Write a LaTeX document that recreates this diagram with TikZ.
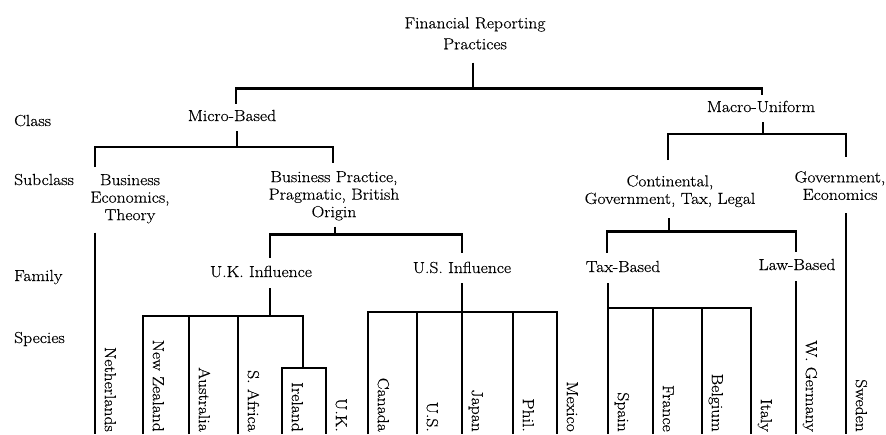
\documentclass[tikz,border=0pt]{standalone}
\usepackage{fontspec}
\setmainfont{Latin Modern Roman}[FakeStretch=1.1, FakeBold=0.4]

\tikzset{
  link/.style={line width=2.9pt},
  tag/.style={inner sep=0pt, align=center},
  level/.style={inner sep=0pt, anchor=base west},
  leaf/.style={inner sep=0pt, rotate=-90, anchor=mid east},
}

\begin{document}
\begin{tikzpicture}[x=1pt, y=1pt, font=\fontsize{16}{17.5}\selectfont]
\useasboundingbox (0,0) rectangle (886,-434);
% level names
\node[level] (lvclass) at (14,-126) {Class};
\node[level] (lvsub) at (14,-185) {Subclass};
\node[level] (lvfam) at (14,-281) {Family};
\node[level] (lvspec) at (14,-343) {Species};
% groups
\node[tag, anchor=north, font=\fontsize{16}{21}\selectfont] (root) at (475,-17) {Financial Reporting\\Practices};
\node[tag, anchor=base] (micro) at (232,-121) {Micro-Based};
\node[tag, anchor=base] (macro) at (761,-112) {Macro-Uniform};
\node[tag, anchor=north] (bizecon) at (130,-174) {Business\\Economics,\\Theory};
\node[tag, anchor=north] (bizprac) at (334,-171) {Business Practice,\\Pragmatic, British\\Origin};
\node[tag, anchor=north] (contin) at (670,-175) {Continental,\\Government, Tax, Legal};
\node[tag, anchor=north] (goveco) at (840,-171) {Government,\\Economics};
\node[tag, anchor=base] (ukinf) at (261,-277) {U.K. Influence};
\node[tag, anchor=base] (usinf) at (462,-273) {U.S. Influence};
\node[tag, anchor=base] (taxb) at (623,-272) {Tax-Based};
\node[tag, anchor=base] (lawb) at (797,-270) {Law-Based};
% feet of the country lines
\coordinate (nlfoot) at (95,-434);
\coordinate (nzfoot) at (143,-434);
\coordinate (ausfoot) at (189,-434);
\coordinate (safoot) at (238,-434);
\coordinate (irefoot) at (282,-434);
\coordinate (ukfoot) at (326,-434);
\coordinate (canfoot) at (368,-434);
\coordinate (usfoot) at (417,-434);
\coordinate (japfoot) at (462,-434);
\coordinate (phifoot) at (513,-434);
\coordinate (mexfoot) at (557,-434);
\coordinate (spafoot) at (608,-434);
\coordinate (frafoot) at (653,-434);
\coordinate (belfoot) at (702,-434);
\coordinate (itafoot) at (751,-434);
\coordinate (wgefoot) at (796,-434);
\coordinate (swefoot) at (846,-434);
% countries
\node[leaf] (nl) at ([xshift=12pt,yshift=2pt]nlfoot) {Netherlands};
\node[leaf] (nz) at ([xshift=12pt,yshift=2pt]nzfoot) {New Zealand};
\node[leaf] (aus) at ([xshift=12pt,yshift=2pt]ausfoot) {Australia};
\node[leaf] (saf) at ([xshift=12pt,yshift=2pt]safoot) {S. Africa};
\node[leaf] (ire) at ([xshift=12pt,yshift=2pt]irefoot) {Ireland};
\node[leaf] (uk) at ([xshift=12pt,yshift=2pt]ukfoot) {U.K.};
\node[leaf] (can) at ([xshift=12pt,yshift=2pt]canfoot) {Canada};
\node[leaf] (us) at ([xshift=12pt,yshift=2pt]usfoot) {U.S.};
\node[leaf] (jap) at ([xshift=12pt,yshift=2pt]japfoot) {Japan};
\node[leaf] (phi) at ([xshift=12pt,yshift=2pt]phifoot) {Phil.};
\node[leaf] (mex) at ([xshift=12pt,yshift=2pt]mexfoot) {Mexico};
\node[leaf] (spa) at ([xshift=12pt,yshift=2pt]spafoot) {Spain};
\node[leaf] (fra) at ([xshift=12pt,yshift=2pt]frafoot) {France};
\node[leaf] (bel) at ([xshift=12pt,yshift=2pt]belfoot) {Belgium};
\node[leaf] (ita) at ([xshift=12pt,yshift=2pt]itafoot) {Italy};
\node[leaf] (wge) at ([xshift=12pt,yshift=2pt]wgefoot) {W. Germany};
\node[leaf] (swe) at ([xshift=12pt,yshift=2pt]swefoot) {Sweden};
% class
\coordinate (rootbar) at ([xshift=-2pt,yshift=-39pt]root.south);
\draw[link] ([xshift=-2pt,yshift=-13pt]root.south) -- (rootbar);
\draw[link] ([xshift=4pt,yshift=6pt]micro.north) |- (rootbar) -| ([xshift=1pt,yshift=6pt]macro.north);
% subclass
\coordinate (microbar) at ([xshift=5pt,yshift=-26pt]micro.base);
\draw[link] ([xshift=5pt,yshift=-10pt]micro.base) -- (microbar);
\draw[link] ([xshift=-35pt,yshift=7pt]bizecon.north) |- (microbar) -| ([xshift=-1pt,yshift=8pt]bizprac.north);
\coordinate (macrobar) at ([xshift=2pt,yshift=-22pt]macro.base);
\draw[link] ([xshift=2pt,yshift=-10pt]macro.base) -- (macrobar);
\draw[link] ([xshift=-2pt,yshift=15pt]contin.north) |- (macrobar) -| ([xshift=6pt,yshift=14pt]goveco.north);
% family
\coordinate (pracbar) at ([xshift=1pt,yshift=-14pt]bizprac.south);
\draw[link] ([xshift=1pt,yshift=-6pt]bizprac.south) -- (pracbar);
\draw[link] ([xshift=9pt,yshift=8pt]ukinf.north) |- (pracbar) -| ([yshift=9pt]usinf.north);
\coordinate (continbar) at ([xshift=-1pt,yshift=-24pt]contin.south);
\draw[link] ([xshift=-1pt,yshift=-11pt]contin.south) -- (continbar);
\draw[link] ([xshift=-16pt,yshift=8pt]taxb.north) |- (continbar) -| ([xshift=-1pt,yshift=7pt]lawb.north);
% species
\draw[link] ([xshift=-35pt,yshift=-9pt]bizecon.south) -- (nlfoot);
\coordinate (ukbar) at ([xshift=9pt,yshift=-39pt]ukinf.base);
\coordinate (irebar) at ([xshift=33pt,yshift=-52pt]ukbar);
\draw[link] ([xshift=9pt,yshift=-11pt]ukinf.base) -- (ukbar);
\draw[link] (nzfoot) |- (ukbar) -| (irebar);
\draw[link] (ausfoot) -- (ausfoot |- ukbar);
\draw[link] (safoot) -- (safoot |- ukbar);
\draw[link] (irefoot) |- (irebar) -| (ukfoot);
\coordinate (usbar) at ([yshift=-39pt]usinf.base);
\draw[link] ([yshift=-10pt]usinf.base) -- (japfoot);
\draw[link] (canfoot) |- (usbar) -| (mexfoot);
\draw[link] (usfoot) -- (usfoot |- usbar);
\draw[link] (phifoot) -- (phifoot |- usbar);
\coordinate (taxbar) at ([xshift=-15pt,yshift=-36pt]taxb.base);
\draw[link] ([xshift=-15pt,yshift=-11pt]taxb.base) -- (spafoot);
\draw[link] (itafoot) |- (taxbar);
\draw[link] (frafoot) -- (frafoot |- taxbar);
\draw[link] (belfoot) -- (belfoot |- taxbar);
\draw[link] ([xshift=-1pt,yshift=-11pt]lawb.base) -- (wgefoot);
\draw[link] ([xshift=6pt,yshift=-13pt]goveco.south) -- (swefoot);
\end{tikzpicture}
\end{document}
